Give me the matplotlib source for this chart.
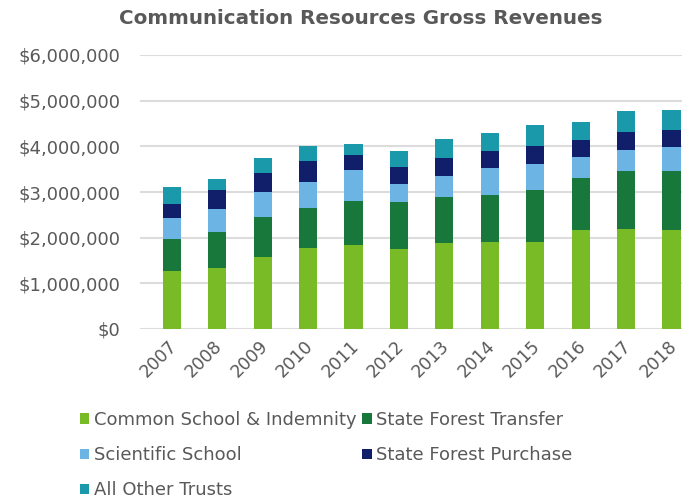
import numpy as np
import matplotlib
matplotlib.use("Agg")
import matplotlib.pyplot as plt
import matplotlib.transforms as mtransforms
from matplotlib.patches import Patch
from matplotlib.ticker import FuncFormatter

years = ['2007', '2008', '2009', '2010', '2011', '2012',
         '2013', '2014', '2015', '2016', '2017', '2018']

# values in dollars
common_school = [1270000, 1330000, 1580000, 1770000, 1840000, 1750000,
                 1880000, 1900000, 1900000, 2170000, 2190000, 2170000]
state_forest_transfer = [700000, 790000, 870000, 880000, 960000, 1030000,
                         1010000, 1030000, 1140000, 1130000, 1270000, 1290000]
scientific_school = [460000, 510000, 550000, 570000, 680000, 390000,
                     460000, 590000, 570000, 460000, 460000, 520000]
state_forest_purchase = [310000, 410000, 410000, 460000, 330000, 370000,
                         390000, 370000, 390000, 380000, 390000, 370000]
all_other = [370000, 240000, 330000, 320000, 240000, 350000,
             420000, 400000, 460000, 390000, 460000, 440000]

series_names = ['Common School & Indemnity', 'State Forest Transfer',
                'Scientific School', 'State Forest Purchase', 'All Other Trusts']
series_values = [common_school, state_forest_transfer, scientific_school,
                 state_forest_purchase, all_other]
colors = ['#79bb27', '#18783c', '#6cb4e3', '#111f6b', '#1a99aa']

text_color = '#595959'

fig = plt.figure(figsize=(6.82, 5.01), dpi=100)
W, H = 682, 501
# axes box in pixels: left 140, right 682, top 55, bottom 329
ax = fig.add_axes([140 / W, (H - 329) / H, (682 - 140) / W, (329 - 55) / H])

x = np.arange(len(years))
bottom = np.zeros(len(years))
for name, vals, c in zip(series_names, series_values, colors):
    vals = np.array(vals, dtype=float)
    ax.bar(x, vals, width=0.4, bottom=bottom, color=c, label=name, zorder=3)
    bottom += vals

ax.set_ylim(0, 6000000)
ax.set_yticks(np.arange(0, 6000001, 1000000))
ax.yaxis.set_major_formatter(FuncFormatter(lambda v, p: f"${v:,.0f}"))
ax.set_xlim(-0.70, 11.23)
ax.set_xticks(x)
ax.set_xticklabels(years, rotation=45, ha='right', rotation_mode='anchor')

ax.grid(axis='y', color='#dcdcdc', linewidth=1.5, zorder=0)
for s in ax.spines.values():
    s.set_visible(False)
ax.tick_params(axis='y', length=0, colors=text_color, labelsize=13, pad=14)
ax.tick_params(axis='x', length=0, colors=text_color, labelsize=12.5, pad=6)

# nudge year labels a little left so the last one stays inside the figure
shift = mtransforms.ScaledTranslation(-4 / 100, 0, fig.dpi_scale_trans)
for lbl in ax.get_xticklabels():
    lbl.set_transform(lbl.get_transform() + shift)

fig.text(361 / W, 1 - 19 / H, 'Communication Resources Gross Revenues',
         ha='center', va='center', fontsize=14.3, fontweight='bold', color=text_color)

# legend rows go left-to-right, matplotlib fills columns first
order = [0, 2, 4, 1, 3]
handles = [Patch(facecolor=colors[i], label=series_names[i]) for i in order]
leg = fig.legend(handles=handles, ncol=2, loc='upper left',
                 bbox_to_anchor=(80 / W, 1 - 411 / H), frameon=False,
                 fontsize=13, handlelength=0.5, handleheight=0.5,
                 handletextpad=0.25, columnspacing=0.35, labelspacing=0.95,
                 borderaxespad=0, borderpad=0)
for t in leg.get_texts():
    t.set_color(text_color)

fig.savefig('out.png', dpi=100)
